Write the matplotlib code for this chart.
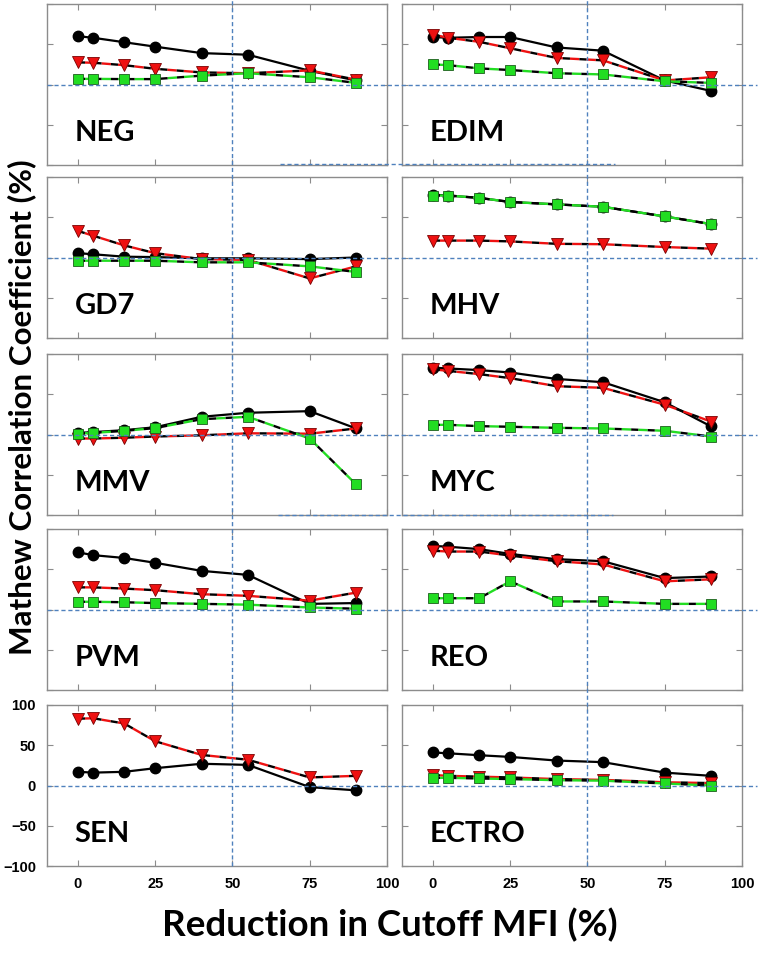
import matplotlib
matplotlib.use("Agg")
import matplotlib.pyplot as plt
import matplotlib.transforms as mtransforms
from matplotlib.lines import Line2D

# cutoff reductions (%)
x_cut = [0, 5, 15, 25, 40, 55, 75, 90]

panel_names = ["NEG", "EDIM", "GD7", "MHV", "MMV", "MYC", "PVM", "REO", "SEN", "ECTRO"]

# black circles
neg_black   = [60, 58, 52.5, 47, 39, 37, 17, 5]
edim_black  = [59, 58, 59, 59, 46, 42, 5, -8]
gd7_black   = [5.4, 4, 1, 0.5, -1, -1, -2, 0]
mhv_black   = [78, 77, 74, 69, 66, 63, 51, 41.5]
mmv_black   = [2, 3, 5.4, 9, 22, 27, 29, 7.5]
myc_black   = [83, 82, 80, 77, 69, 65, 40, 10]
pvm_black   = [71, 67.5, 64, 58, 48, 43, 7, 8]
reo_black   = [79, 78, 75, 69, 62.5, 60, 39, 41]
sen_black   = [17, 16, 17, 21.5, 27, 25.6, -2, -6]
ectro_black = [41, 40, 37.6, 35.5, 31, 29, 16, 12]

# red triangles
neg_red   = [27.5, 27, 24, 19.5, 15, 14, 17.5, 6]
edim_red  = [62, 58, 53, 45, 33, 30, 5, 9]
gd7_red   = [33, 27, 15, 5.4, -2, -3, -26, -11]
mhv_red   = [21, 21, 21, 20, 17, 16.5, 13, 11]
mmv_red   = [-5, -5, -4, -2.5, -1, 1.5, 1, 7.5]
myc_red   = [81, 79, 75, 70, 60, 58, 37, 16]
pvm_red   = [27.5, 27.5, 26, 24, 19, 17, 11, 21]
reo_red   = [73, 72, 72, 67, 60, 56, 35, 37.5]
sen_red   = [83, 83.5, 77, 55, 38, 32, 10, 12]
ectro_red = [13, 12, 11, 10, 8, 7, 4, 3]

# green squares (none for SEN)
neg_green   = [7, 7, 6.7, 6.7, 11, 14, 9, 2]
edim_green  = [25, 24, 20, 18, 14, 12.5, 4, 2]
gd7_green   = [-4, -4, -4, -4, -6, -6, -11, -18]
mhv_green   = [77, 77, 74, 69, 66, 63, 51, 41.5]
mmv_green   = [1, 2, 4.5, 8, 19, 22, -5, -62]
myc_green   = [12, 12, 10.4, 9.6, 8.3, 7.5, 4.6, -2.5]
pvm_green   = [9.6, 9.6, 9, 8, 7, 6, 2.5, 1]
reo_green   = [14, 14, 14, 35, 10, 10, 7, 7]
sen_green   = None
ectro_green = [9.5, 9.5, 8.7, 8, 6.6, 6, 2.5, 0]

black_sets = [neg_black, edim_black, gd7_black, mhv_black, mmv_black,
              myc_black, pvm_black, reo_black, sen_black, ectro_black]
red_sets = [neg_red, edim_red, gd7_red, mhv_red, mmv_red,
            myc_red, pvm_red, reo_red, sen_red, ectro_red]
green_sets = [neg_green, edim_green, gd7_green, mhv_green, mmv_green,
              myc_green, pvm_green, reo_green, sen_green, ectro_green]

W, H = 761, 959
fig = plt.figure(figsize=(W / 100, H / 100), dpi=100)

col_left = [47, 402]
row_top = [4, 177, 354, 529, 705]
pw, ph = 340, 161
guide = "#4f81bd"
spine = "#8c8c8c"

axes = []
for i, name in enumerate(panel_names):
    r, c = divmod(i, 2)
    ax = fig.add_axes([col_left[c] / W, 1 - (row_top[r] + ph) / H, pw / W, ph / H])
    axes.append(ax)
    ax.set_xlim(-10, 100)
    ax.set_ylim(-100, 100)
    ax.set_xticks([0, 25, 50, 75, 100])
    ax.set_yticks([-100, -50, 0, 50, 100])
    ax.tick_params(direction="in", top=True, right=True, length=4,
                   color=spine, labelsize=10.5, pad=8)
    for lab in ax.get_xticklabels() + ax.get_yticklabels():
        lab.set_fontweight("bold")
        lab.set_family("Liberation Sans")
    if r < 4:
        ax.tick_params(labelbottom=False)
    if not (r == 4 and c == 0):
        ax.tick_params(labelleft=False)
    for s in ax.spines.values():
        s.set_color(spine)
        s.set_linewidth(1.0)

    ax.plot(x_cut, black_sets[i], color="black", lw=1.6, marker="o",
            ms=7.5, mfc="black", mec="black", zorder=3)
    ax.plot(x_cut, red_sets[i], color="black", gapcolor="#ee1111",
            linestyle=(0, (3, 4)), lw=1.7, marker="v", ms=8,
            mfc="#ee1111", mec="#7a0000", mew=0.6, zorder=4)
    if green_sets[i] is not None:
        ax.plot(x_cut, green_sets[i], color="black", gapcolor="#22dd22",
                linestyle=(0, (3, 4)), lw=1.7, marker="s", ms=6.8,
                mfc="#22dd22", mec="#1d5e1d", mew=0.6, zorder=5)

    ax.text(-1, -70, name, fontsize=21, fontweight="bold", family="Lato",
            ha="left", va="baseline")

# dashed guide lines: y = 0 across each row, x = 50 down each column
dash = (0, (3, 2))
for r in range(5):
    ax = axes[2 * r]
    tr = mtransforms.blended_transform_factory(fig.transFigure, ax.transData)
    fig.add_artist(Line2D([47 / W, 757 / W], [0, 0], transform=tr,
                          color=guide, lw=1.0, linestyle=dash, zorder=6))
for c in range(2):
    ax = axes[c]
    tr = mtransforms.blended_transform_factory(ax.transData, fig.transFigure)
    fig.add_artist(Line2D([50, 50], [1 - 866 / H, 1.0], transform=tr,
                          color=guide, lw=1.0, linestyle=dash, zorder=6))

# stray dashed segments along row edges
for yy, x0, x1 in [(164, 280, 615), (515, 278, 613)]:
    fig.add_artist(Line2D([x0 / W, x1 / W], [1 - yy / H, 1 - yy / H],
                          transform=fig.transFigure, color=guide, lw=1.0,
                          linestyle=dash))

fig.text(22 / W, 1 - 407 / H, "Mathew Correlation Coefficient (%)",
         rotation=90, ha="center", va="center", fontsize=22.6,
         fontweight="bold", family="Lato")
fig.text(390 / W, 1 - 925 / H, "Reduction in Cutoff MFI (%)",
         ha="center", va="center", fontsize=26.5, fontweight="bold", family="Lato")

fig.savefig("out.png", dpi=100, facecolor="white")
